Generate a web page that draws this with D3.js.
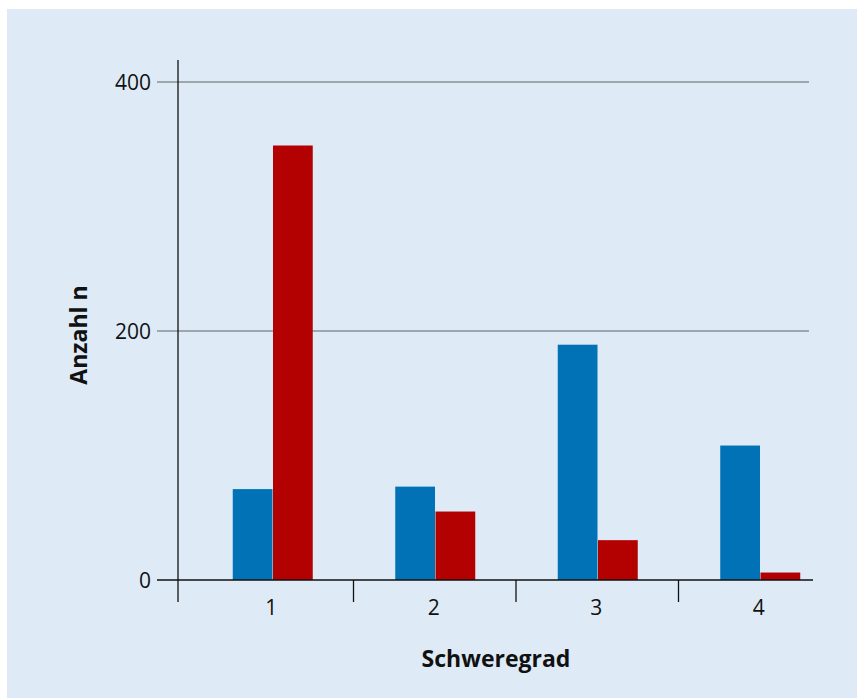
<!DOCTYPE html>
<html><head><meta charset="utf-8">
<script src="https://cdn.jsdelivr.net/npm/d3@7"></script>
<style>body{margin:0;background:#fff}svg{display:block}text{font-family:"Open Sans",sans-serif;fill:#111}</style>
</head><body>
<script>
const categories = ["1","2","3","4"];
const seriesNames = ["A","B"];
const blueValues = [73, 75, 189, 108];
const redValues = [349, 55, 32, 6];
const yTicks = [0, 200, 400];
const colors = ["#0072b5", "#b30000"];
const xTitle = "Schweregrad";
const yTitle = "Anzahl n";

const W = 857, H = 698;
const svg = d3.select("body").append("svg").attr("width", W).attr("height", H);
svg.append("rect").attr("x", 7).attr("y", 9).attr("width", W - 7).attr("height", H - 9).attr("fill", "#deebf7");

const y = d3.scaleLinear().domain([0, 400]).range([580, 82]);
const x = d3.scaleBand().domain(categories).range([191, 841]).paddingInner(0);
const xs = d3.scaleBand().domain(seriesNames).range([x.bandwidth()/2 - 39.5, x.bandwidth()/2 + 40.5]).paddingInner(1/80);

// gridlines
svg.append("g").selectAll("line").data(yTicks.filter(d => d > 0)).join("line")
  .attr("x1", 157).attr("x2", 809).attr("y1", d => y(d)).attr("y2", d => y(d))
  .attr("stroke", "#8a9096").attr("stroke-width", 1.3);

// y axis line
svg.append("line").attr("x1", 178).attr("x2", 178).attr("y1", 60).attr("y2", 602).attr("stroke", "#111").attr("stroke-width", 1.3);

// bars
const data = categories.map((c, i) => ({c, vals: [blueValues[i], redValues[i]]}));
const g = svg.append("g");
data.forEach(d => {
  d.vals.forEach((v, j) => {
    g.append("rect")
      .attr("x", x(d.c) + xs(seriesNames[j]))
      .attr("y", y(v))
      .attr("width", xs.bandwidth())
      .attr("height", y(0) - y(v))
      .attr("fill", colors[j]);
  });
});

// zero line
svg.append("line").attr("x1", 157).attr("x2", 813).attr("y1", y(0)).attr("y2", y(0)).attr("stroke", "#111").attr("stroke-width", 1.5);

// y tick labels
svg.append("g").selectAll("text").data(yTicks).join("text")
  .attr("x", 151).attr("y", d => y(d)).attr("dy", "0.36em").attr("text-anchor", "end")
  .attr("font-size", 21).text(d => d);

// x separators
svg.append("g").selectAll("line").data(categories.slice(1)).join("line")
  .attr("x1", d => x(d)).attr("x2", d => x(d)).attr("y1", y(0)).attr("y2", 602)
  .attr("stroke", "#111").attr("stroke-width", 1.3);

// x labels
svg.append("g").selectAll("text").data(categories).join("text")
  .attr("x", d => x(d) + x.bandwidth()/2 - 1).attr("y", 615).attr("text-anchor", "middle")
  .attr("font-size", 21).text(d => d);

svg.append("text").attr("x", 496).attr("y", 667).attr("text-anchor", "middle")
  .attr("font-size", 23).attr("font-weight", "bold").text(xTitle);
svg.append("text").attr("transform", "translate(87,335) rotate(-90)").attr("text-anchor", "middle")
  .attr("font-size", 23).attr("font-weight", "bold").text(yTitle);
</script>
</body></html>
